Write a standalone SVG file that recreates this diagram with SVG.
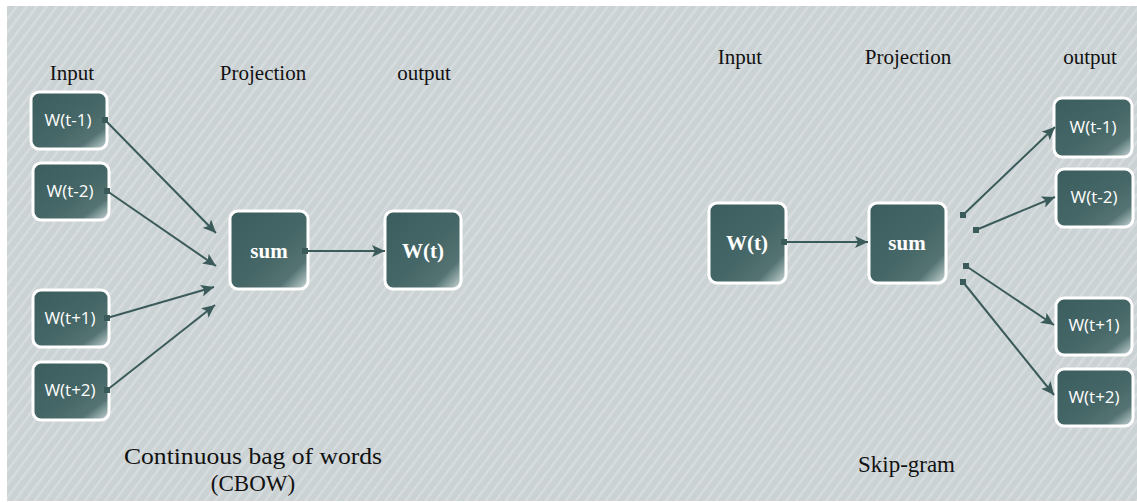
<svg xmlns="http://www.w3.org/2000/svg" width="1137" height="502" viewBox="0 0 1137 502">
<style>
.box{fill:url(#boxg);stroke:#ffffff;stroke-width:3}
.lbl{font-family:"Liberation Serif",serif;font-size:21px;fill:#111}
.cap{font-family:"Liberation Serif",serif;font-size:23px;fill:#111}
.w{font-family:"Open Sans","Liberation Sans",sans-serif;font-size:17px;fill:#ffffff}
.b{font-family:"Liberation Serif",serif;font-size:21px;font-weight:bold;fill:#ffffff}
.con{stroke:#3b5b5b;stroke-width:2;fill:none;marker-end:url(#arr)}
.port{fill:#3b5b5b}
</style>
<defs>
<linearGradient id="boxg" x1="0" y1="0" x2="1" y2="1">
<stop offset="0" stop-color="#3c5d5d"/>
<stop offset="0.55" stop-color="#466767"/>
<stop offset="0.8" stop-color="#557373"/>
<stop offset="0.9" stop-color="#8fa6a6"/>
<stop offset="1" stop-color="#d2dcdc"/>
</linearGradient>
<pattern id="stripes" width="8" height="8" patternUnits="userSpaceOnUse" patternTransform="rotate(37)">
<rect width="8" height="8" fill="#cbd2d4"/>
<rect width="2.5" height="8" fill="#d7dcde"/>
</pattern>
<marker id="arr" markerUnits="userSpaceOnUse" markerWidth="14" markerHeight="12" refX="13" refY="6" orient="auto">
<path d="M0,0 L13,6 L0,12 L3,6 z" fill="#3b5b5b"/>
</marker>
</defs>
<rect x="0" y="0" width="1137" height="502" fill="#ffffff"/>
<rect x="7" y="6" width="1130" height="495" fill="url(#stripes)"/>

<g id="labels">
<text class="lbl" x="72" y="80" text-anchor="middle">Input</text>
<text class="lbl" x="263" y="80" text-anchor="middle">Projection</text>
<text class="lbl" x="424" y="80" text-anchor="middle">output</text>
<text class="lbl" x="740" y="64" text-anchor="middle">Input</text>
<text class="lbl" x="908" y="64" text-anchor="middle">Projection</text>
<text class="lbl" x="1090" y="64" text-anchor="middle">output</text>
<text class="cap" x="124" y="464" textLength="258" lengthAdjust="spacingAndGlyphs">Continuous bag of words</text>
<text class="cap" x="253" y="491" text-anchor="middle">(CBOW)</text>
<text class="cap" x="858" y="472" textLength="97" lengthAdjust="spacingAndGlyphs">Skip-gram</text>
</g>

<g id="cbow-wt-1"><rect class="box" x="31" y="92" width="76" height="57" rx="8"/><text class="w" x="68" y="126" text-anchor="middle">W(t-1)</text></g>
<g id="cbow-wt-2"><rect class="box" x="33" y="163" width="76" height="57" rx="8"/><text class="w" x="70" y="197" text-anchor="middle">W(t-2)</text></g>
<g id="cbow-wt+1"><rect class="box" x="33" y="290" width="76" height="57" rx="8"/><text class="w" x="70" y="324" text-anchor="middle">W(t+1)</text></g>
<g id="cbow-wt+2"><rect class="box" x="33" y="362" width="76" height="58" rx="8"/><text class="w" x="70" y="396" text-anchor="middle">W(t+2)</text></g>
<g id="cbow-sum"><rect class="box" x="230" y="211" width="78" height="78" rx="8"/><text class="b" x="269" y="258" text-anchor="middle">sum</text></g>
<g id="cbow-wt"><rect class="box" x="385" y="211" width="76" height="78" rx="8"/><text class="b" x="423" y="258" text-anchor="middle">W(t)</text></g>

<g id="sg-wt"><rect class="box" x="709" y="203" width="77" height="80" rx="8"/><text class="b" x="747" y="250" text-anchor="middle">W(t)</text></g>
<g id="sg-sum"><rect class="box" x="869" y="203" width="77" height="80" rx="8"/><text class="b" x="907" y="250" text-anchor="middle">sum</text></g>
<g id="sg-wt-1"><rect class="box" x="1054" y="98" width="78" height="59" rx="8"/><text class="w" x="1093" y="133" text-anchor="middle">W(t-1)</text></g>
<g id="sg-wt-2"><rect class="box" x="1056" y="169" width="77" height="58" rx="8"/><text class="w" x="1094" y="203" text-anchor="middle">W(t-2)</text></g>
<g id="sg-wt+1"><rect class="box" x="1056" y="298" width="76" height="57" rx="8"/><text class="w" x="1094" y="331" text-anchor="middle">W(t+1)</text></g>
<g id="sg-wt+2"><rect class="box" x="1056" y="369" width="77" height="57" rx="8"/><text class="w" x="1094" y="403" text-anchor="middle">W(t+2)</text></g>

<g id="connectors">
<line class="con" x1="105" y1="120" x2="216" y2="233"/>
<line class="con" x1="107" y1="191" x2="216" y2="266"/>
<line class="con" x1="107" y1="318" x2="214" y2="287"/>
<line class="con" x1="107" y1="390" x2="215" y2="305"/>
<line class="con" x1="305" y1="251" x2="385" y2="251"/>
<line class="con" x1="784" y1="242" x2="868" y2="242"/>
<line class="con" x1="963" y1="215" x2="1055" y2="127"/>
<line class="con" x1="976" y1="230" x2="1055" y2="197"/>
<line class="con" x1="966" y1="266" x2="1054" y2="325"/>
<line class="con" x1="963" y1="282" x2="1054" y2="395"/>
<rect class="port" x="102" y="117" width="6" height="6"/>
<rect class="port" x="104" y="188" width="6" height="6"/>
<rect class="port" x="104" y="315" width="6" height="6"/>
<rect class="port" x="104" y="387" width="6" height="6"/>
<rect class="port" x="302" y="248" width="6" height="6"/>
<rect class="port" x="781" y="239" width="6" height="6"/>
<rect class="port" x="960" y="212" width="6" height="6"/>
<rect class="port" x="973" y="227" width="6" height="6"/>
<rect class="port" x="963" y="263" width="6" height="6"/>
<rect class="port" x="960" y="279" width="6" height="6"/>
</g>
</svg>
